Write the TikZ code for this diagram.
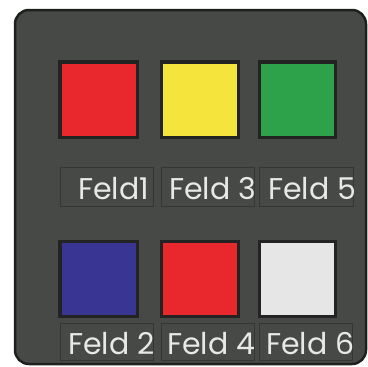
\documentclass[tikz,border=0pt]{standalone}
\usepackage{fontspec}
\setmainfont{Poppins}
\definecolor{panel}{HTML}{464946}
\definecolor{panelborder}{HTML}{1E201E}
\definecolor{sqborder}{HTML}{232323}
\definecolor{lblborder}{HTML}{333633}
\definecolor{txt}{HTML}{E8E8E8}
\definecolor{cred}{HTML}{E8282C}
\definecolor{cyellow}{HTML}{F5E43C}
\definecolor{cgreen}{HTML}{2EA24A}
\definecolor{cblue}{HTML}{393593}
\definecolor{cwhite}{HTML}{E6E6E6}
\tikzset{
  sq/.style={draw=sqborder, line width=3.5pt},
  lbl/.style={draw=lblborder, line width=1pt},
  lbltext/.style={text=txt, inner sep=0pt, anchor=base west, font=\fontsize{30}{30}\selectfont}
}
\begin{document}
\begin{tikzpicture}[x=1pt,y=-1pt]
\useasboundingbox (0,0) rectangle (367,367);
\fill[white] (0,0) rectangle (367,367);
\draw[panelborder, fill=panel, line width=2.5pt, rounded corners=14pt] (15,10) rectangle (366,364);
% squares row 1
\draw[sq, fill=cred] (60,62) rectangle (137.5,137.5);
\draw[sq, fill=cyellow] (161.5,62) rectangle (238.5,137.5);
\draw[sq, fill=cgreen] (259.5,62) rectangle (335.5,137.5);
% squares row 2
\draw[sq, fill=cblue] (60,241.5) rectangle (137.5,316.5);
\draw[sq, fill=cred] (161.5,241.5) rectangle (238.5,316.5);
\draw[sq, fill=cwhite] (259.5,241.5) rectangle (335.5,316.5);
% label boxes
\draw[lbl] (60.5,167) rectangle (153.5,206);
\draw[lbl] (161,167) rectangle (254,206);
\draw[lbl] (259,167) rectangle (353,206);
\draw[lbl] (60.5,323) rectangle (153.5,360);
\draw[lbl] (161,323) rectangle (254.5,360);
\draw[lbl] (259,323) rectangle (352.5,360);
% texts
\node[lbltext] (t1) at (78,199) {Feld1};
\node[lbltext] (t3) at (169,199) {Feld 3};
\node[lbltext] (t5) at (268,199) {Feld 5};
\node[lbltext] (t2) at (68,354.5) {Feld 2};
\node[lbltext] (t4) at (167,354.5) {Feld 4};
\node[lbltext] (t6) at (266,354.5) {Feld 6};
\end{tikzpicture}
\end{document}
